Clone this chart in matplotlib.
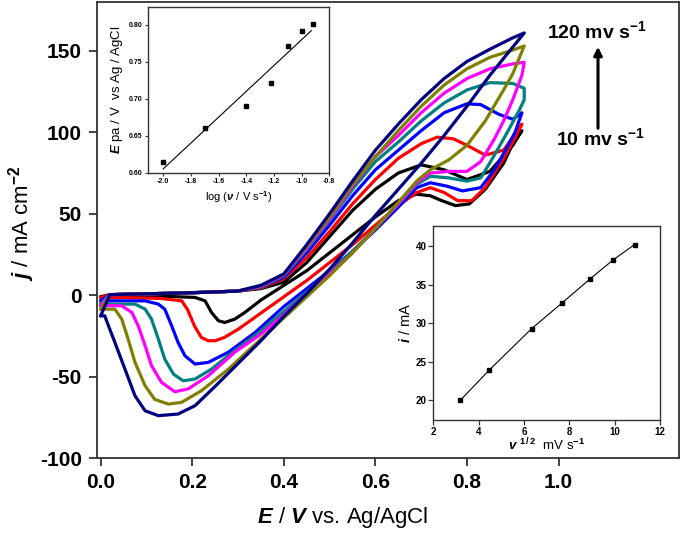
import matplotlib
matplotlib.use('Agg')
import matplotlib.pyplot as plt
import numpy as np

plt.rcParams['font.family'] = ['Liberation Sans', 'DejaVu Sans']
plt.rcParams['font.weight'] = 'bold'
plt.rcParams['mathtext.fontset'] = 'custom'
plt.rcParams['mathtext.rm'] = 'Liberation Sans:bold'
plt.rcParams['mathtext.it'] = 'Liberation Sans:italic:bold'
plt.rcParams['mathtext.bf'] = 'Liberation Sans:bold'
plt.rcParams['axes.unicode_minus'] = False

# ---------------- main CV data (E / V, j / mA cm-2), closed loops ----------------
E_10 = [0, 0.02, 0.1, 0.2, 0.3, 0.35, 0.40, 0.45, 0.50, 0.55, 0.60, 0.65, 0.70, 0.75, 0.80, 0.85, 0.90, 0.92,
        0.90, 0.88, 0.84, 0.805, 0.775, 0.745, 0.72, 0.69, 0.65, 0.60, 0.55, 0.50, 0.45, 0.40, 0.35, 0.315,
        0.293, 0.271, 0.257, 0.242, 0.228, 0.206, 0.15, 0.1, 0.05, 0.0]
j_10 = [-1, 0.3, 0.8, 1.5, 2.5, 4, 8, 20, 36, 52, 65, 75, 80, 77, 71, 76, 92, 101,
        93, 81, 65, 56, 55, 58, 61, 62, 58, 48, 37, 26, 15, 6, -3, -10.6,
        -14.7, -16.8, -15.7, -10.6, -3.5, -1.4, -0.8, -0.5, -0.5, -1]

E_20 = [0, 0.02, 0.1, 0.2, 0.3, 0.35, 0.40, 0.45, 0.50, 0.55, 0.60, 0.65, 0.70, 0.735, 0.77, 0.80, 0.84, 0.88, 0.92,
        0.90, 0.88, 0.84, 0.81, 0.78, 0.75, 0.72, 0.69, 0.65, 0.60, 0.55, 0.50, 0.45, 0.40, 0.35, 0.30,
        0.27, 0.25, 0.235, 0.22, 0.205, 0.19, 0.177, 0.13, 0.05, 0.0]
j_20 = [-1.5, 0.3, 0.8, 1.5, 2.5, 4.5, 10, 23, 39, 56, 71, 84, 93, 97, 96, 92, 86, 89, 105,
        94, 84, 66, 58, 58, 63, 66, 63, 55, 43, 31, 20, 9, -1, -11, -21,
        -26, -28, -28, -26, -19, -9, -3.5, -2, -1.5, -1.5]

E_40 = [0, 0.02, 0.1, 0.2, 0.3, 0.35, 0.40, 0.45, 0.50, 0.55, 0.60, 0.65, 0.70, 0.75, 0.80, 0.83, 0.87, 0.90, 0.92,
        0.905, 0.89, 0.86, 0.83, 0.79, 0.755, 0.72, 0.69, 0.65, 0.60, 0.55, 0.50, 0.45, 0.40, 0.337, 0.279,
        0.235, 0.206, 0.184, 0.169, 0.155, 0.14, 0.126, 0.097, 0.05, 0.0]
j_40 = [-3.5, 0.3, 0.8, 1.5, 2.5, 5, 11, 26, 43, 61, 77, 89, 101, 112, 117.5, 117, 111, 108, 112,
        100, 92, 77, 66, 64, 67, 69, 66, 54, 40, 27, 15, 4, -7, -23, -35,
        -41.3, -42.3, -37.2, -29, -18.8, -8.6, -5.5, -3.5, -3.5, -3.5]

E_60 = [0, 0.02, 0.1, 0.2, 0.3, 0.35, 0.40, 0.45, 0.50, 0.55, 0.60, 0.65, 0.70, 0.75, 0.80, 0.85, 0.90, 0.925,
        0.925, 0.915, 0.89, 0.86, 0.83, 0.80, 0.76, 0.72, 0.69, 0.65, 0.60, 0.55, 0.50, 0.45, 0.40, 0.35,
        0.293, 0.242, 0.206, 0.18, 0.159, 0.14, 0.126, 0.111, 0.097, 0.075, 0.03, 0.0]
j_60 = [-5.5, 0.3, 0.8, 1.5, 2.5, 5, 12, 28, 46, 65, 82, 94, 107, 118, 126, 130.5, 130, 127,
        120, 114, 101, 86, 72, 70, 72, 73, 68, 56, 41, 27, 14, 2, -10, -22,
        -34, -45.4, -51.5, -52.6, -48.5, -39.3, -27, -14.7, -8.6, -5.5, -5.5, -5.5]

E_80 = [0, 0.02, 0.1, 0.2, 0.3, 0.35, 0.40, 0.45, 0.50, 0.55, 0.60, 0.65, 0.70, 0.75, 0.80, 0.85, 0.90, 0.925,
        0.92, 0.90, 0.88, 0.86, 0.83, 0.80, 0.76, 0.72, 0.69, 0.65, 0.60, 0.55, 0.50, 0.45, 0.40, 0.35,
        0.293, 0.235, 0.191, 0.162, 0.133, 0.111, 0.097, 0.082, 0.068, 0.046, 0.0]
j_80 = [-6.5, 0.3, 0.8, 1.5, 2.5, 5.5, 12.5, 29, 47, 67, 85, 98, 112, 124, 133, 139, 142, 143,
        135, 120, 107, 96, 82, 76, 76, 75, 69, 56, 41, 26, 13, 1, -12, -24,
        -35, -49.5, -57.6, -59.3, -53.6, -43.3, -31, -18.8, -10.6, -6.5, -6.5]

E_100 = [0, 0.02, 0.1, 0.2, 0.3, 0.35, 0.40, 0.45, 0.50, 0.55, 0.60, 0.65, 0.70, 0.75, 0.80, 0.85, 0.90, 0.925,
         0.90, 0.88, 0.84, 0.80, 0.76, 0.72, 0.69, 0.65, 0.60, 0.55, 0.50, 0.45, 0.40, 0.35,
         0.279, 0.22, 0.177, 0.148, 0.118, 0.097, 0.075, 0.06, 0.046, 0.031, 0.0]
j_100 = [-8.6, 0.3, 0.8, 1.5, 2.5, 6, 13, 30, 48, 68, 85, 101, 116, 129, 139, 146, 150.5, 153,
         136, 126, 107, 92, 83, 77, 70, 57, 41, 26, 12, -1, -14, -27,
         -45.4, -58.7, -65.8, -66.9, -64, -55.6, -41.3, -27, -14.7, -8.6, -8.6]

E_120 = [0, 0.02, 0.1, 0.2, 0.3, 0.35, 0.40, 0.45, 0.50, 0.55, 0.60, 0.65, 0.70, 0.75, 0.80, 0.85, 0.90, 0.925,
         0.85, 0.80, 0.75, 0.70, 0.65, 0.60, 0.55, 0.50, 0.45, 0.40, 0.35, 0.30, 0.25,
         0.206, 0.169, 0.126, 0.097, 0.075, 0.053, 0.031, 0.017, 0.009, 0.0]
j_120 = [-12.7, 0.3, 0.8, 1.5, 2.5, 6, 13, 31, 50, 70, 89, 105, 120, 133, 143.5, 151, 158, 161,
         135, 116, 98, 81, 65, 49, 32, 16, 1, -13, -28, -42, -56,
         -67.9, -73, -74, -71, -61.8, -45.4, -29, -18.8, -12.7, -12.7]

cv_E = [E_10, E_20, E_40, E_60, E_80, E_100, E_120]
cv_j = [j_10, j_20, j_40, j_60, j_80, j_100, j_120]
cv_colors = ['#000000', '#ff0000', '#0000ff', '#008080', '#ff00ff', '#808000', '#000080']

x_ticks = [0.0, 0.2, 0.4, 0.6, 0.8, 1.0]
x_ticklabels = ['0.0', '0.2', '0.4', '0.6', '0.8', '1.0']
y_ticks = [-100, -50, 0, 50, 100, 150]

# ---------------- inset 1: Epa vs log(v) ----------------
log_v = [-2.0, -1.7, -1.4, -1.22, -1.1, -1.0, -0.92]
Epa = [0.615, 0.661, 0.690, 0.721, 0.771, 0.791, 0.801]
in1_xticks = [-2.0, -1.8, -1.6, -1.4, -1.2, -1.0, -0.8]
in1_yticks = [0.60, 0.65, 0.70, 0.75, 0.80]

# ---------------- inset 2: i vs v^1/2 ----------------
sqrt_v = [3.19, 4.46, 6.34, 7.69, 8.90, 9.93, 10.88]
i_mA = [20.0, 23.9, 29.3, 32.65, 35.7, 38.2, 40.2]
in2_xticks = [2, 4, 6, 8, 10, 12]
in2_yticks = [20, 25, 30, 35, 40]

W, H = 685, 533
fig = plt.figure(figsize=(W / 100, H / 100), dpi=100)

def fx(px):
    return px / W

def fy(py):
    return (H - py) / H

ax = fig.add_axes([fx(97), fy(458), (679 - 97) / W, (458 - 2) / H])
for E, j, c in zip(cv_E, cv_j, cv_colors):
    ax.plot(E, j, color=c, lw=2.3, solid_joinstyle='round', solid_capstyle='round')
ax.set_xlim(-0.008, 1.263)
ax.set_ylim(-100, 180)
ax.set_xticks(x_ticks)
ax.set_xticklabels(x_ticklabels)
ax.set_yticks(y_ticks)
ax.tick_params(direction='out', length=6, width=1.3, labelsize=15, pad=5, color='#333333')
for s in ax.spines.values():
    s.set_linewidth(1.3)
    s.set_color('#333333')
ax.set_xlabel(r'$E$ / $V$ vs. Ag/AgCl', fontsize=16)
ax.xaxis.label.set_va('center')
ax.xaxis.set_label_coords((343 - 97) / 582, -(517 - 458) / 456)
ax.set_ylabel(r'$j$ / mA cm$^{-2}$', fontsize=16)
ax.yaxis.label.set_va('center')
ax.yaxis.set_label_coords((22 - 97) / 582, (458 - 223) / 456)

fig.text(fx(597), fy(31), r'120 mv s$^{-1}$', fontsize=14, ha='center', va='center')
fig.text(fx(600), fy(138), r'10 mv s$^{-1}$', fontsize=14, ha='center', va='center')
ax.annotate('', xy=(fx(598), fy(44)), xytext=(fx(598), fy(131)),
            xycoords='figure fraction', textcoords='figure fraction',
            arrowprops=dict(arrowstyle='-|>', lw=2.2, color='k', mutation_scale=12))

# inset 1
ax1 = fig.add_axes([fx(148), fy(172.7), (329.3 - 148) / W, (172.7 - 7) / H])
coef = np.polyfit(log_v, Epa, 1)
xf = np.array([log_v[0], log_v[-1] - 0.01])
ax1.plot(xf, np.polyval(coef, xf), color='k', lw=0.8)
ax1.plot(log_v, Epa, 's', color='k', ms=2.8)
ax1.set_xlim(-2.11, -0.8)
ax1.set_ylim(0.60, 0.824)
ax1.set_xticks(in1_xticks)
ax1.set_xticklabels(['%.1f' % v for v in in1_xticks])
ax1.set_yticks(in1_yticks)
ax1.set_yticklabels(['%.2f' % v for v in in1_yticks])
ax1.tick_params(direction='out', length=2.5, width=0.8, labelsize=5, pad=1.5, color='#333333')
for s in ax1.spines.values():
    s.set_linewidth(1.0)
    s.set_color('#333333')
ax1.set_ylabel(r'$E$ pa / V  vs Ag / AgCl', fontsize=9.5, labelpad=3)
ax1.set_xlabel(r'log ($\nu$ / V s$^{-1}$)', fontsize=8, labelpad=3)

# inset 2
ax2 = fig.add_axes([fx(433.3), fy(420), (660 - 433.3) / W, (420 - 226) / H])
ax2.plot(sqrt_v, i_mA, color='k', lw=0.8)
ax2.plot(sqrt_v, i_mA, 's', color='k', ms=3)
ax2.set_xlim(2, 12)
ax2.set_ylim(17.45, 42.6)
ax2.set_xticks(in2_xticks)
ax2.set_yticks(in2_yticks)
ax2.tick_params(direction='out', length=3.5, width=0.9, labelsize=7, pad=1.5, color='#333333')
for s in ax2.spines.values():
    s.set_linewidth(1.0)
    s.set_color('#333333')
ax2.set_ylabel(r'$i$ / mA', fontsize=10.5, labelpad=2)
ax2.set_xlabel(r'$v$ $^{1\,/\,2}$  mV s$^{-1}$', fontsize=9.5, labelpad=0)

fig.savefig('out.png', dpi=100)
